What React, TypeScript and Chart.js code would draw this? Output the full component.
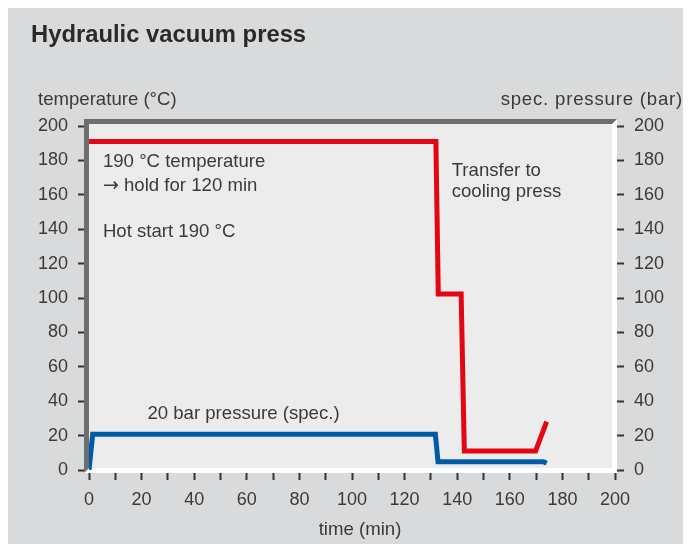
import React, { useEffect, useRef } from "react";
import { Chart, registerables } from "chart.js";

Chart.register(...registerables);

// ---- data ----
const temperatureTime = [0, 131.9, 132.8, 141.5, 142.7, 169.8, 174.0];
const temperatureValues = [191, 191, 102.3, 102.3, 11, 11, 28.1];

const pressureTime = [0, 1.4, 131.7, 132.7, 172.8, 174.0];
const pressureValues = [0, 20.8, 20.8, 4.8, 4.8, 3.9];

const axisMin = 0;
const axisMax = 200;
const yStep = 20;
const xTickStep = 10;
const xLabelStep = 20;

const titleText = "Hydraulic vacuum press";
const leftAxisTitle = "temperature (°C)";
const rightAxisTitle = "spec. pressure (bar)";
const bottomAxisTitle = "time (min)";

const arrowGlyph = "→";
const noteTexts = [
  "190 °C temperature",
  " hold for 120 min",
  "Hot start 190 °C",
  "Transfer to",
  "cooling press",
  "20 bar pressure (spec.)",
];
const noteHasArrow = [false, true, false, false, false, false];
// anchor of each note in data coordinates (time, temperature)
const noteX = [5.3, 5.3, 5.3, 137.9, 137.9, 22.2];
const noteY = [176, 162.2, 135.2, 170.9, 158.9, 29.7];

// ---- styles ----
const FONT = "'Liberation Sans', Arial, Helvetica, sans-serif";
const PANEL = "#d9dadb";
const PLOT_BG = "#ebeceb";
const FRAME_DARK = "#6d6e70";
const TEXT = "#3a3a3a";
const RED = "#e30613";
const BLUE = "#005aa9";

const W = 683;
const H = 536;

const decorPlugin = {
  id: "decor",
  beforeDraw(chart: any) {
    const { ctx, width, height } = chart;
    ctx.save();
    ctx.fillStyle = PANEL;
    ctx.fillRect(0, 0, width, height);
    ctx.restore();
  },
  beforeDatasetsDraw(chart: any) {
    const { ctx, chartArea: a } = chart;
    const L = a.left - 5;
    const T = a.top - 7;
    const R = a.right + 2;
    const B = a.bottom + 3;
    const b = 5;
    ctx.save();
    ctx.fillStyle = "#ffffff";
    ctx.fillRect(L, T, R - L, B - T);
    ctx.fillStyle = FRAME_DARK;
    ctx.beginPath();
    ctx.moveTo(L, T);
    ctx.lineTo(R, T);
    ctx.lineTo(R - b, T + b);
    ctx.lineTo(L + b, T + b);
    ctx.lineTo(L + b, B - b);
    ctx.lineTo(L, B);
    ctx.closePath();
    ctx.fill();
    ctx.fillStyle = PLOT_BG;
    ctx.fillRect(L + b, T + b, R - L - 2 * b, B - T - 2 * b);
    ctx.restore();
  },
  afterDraw(chart: any) {
    const { ctx } = chart;
    const xs = chart.scales.x;
    const ys = chart.scales.y;
    ctx.save();
    ctx.textBaseline = "alphabetic";
    // title
    ctx.fillStyle = "#2a2a2a";
    ctx.font = `bold 23.8px ${FONT}`;
    ctx.textAlign = "left";
    ctx.fillText(titleText, 23, 34);
    // axis titles
    ctx.fillStyle = TEXT;
    ctx.font = `18.6px ${FONT}`;
    ctx.textAlign = "left";
    ctx.fillText(leftAxisTitle, 30, 97);
    ctx.textAlign = "right";
    (ctx as any).letterSpacing = "0.8px";
    ctx.fillText(rightAxisTitle, 675, 97);
    (ctx as any).letterSpacing = "0px";
    ctx.textAlign = "center";
    ctx.fillText(bottomAxisTitle, (xs.left + xs.right) / 2 + 8, 527);
    // notes
    ctx.textAlign = "left";
    noteTexts.forEach((t, i) => {
      let px = xs.getPixelForValue(noteX[i]);
      const py = ys.getPixelForValue(noteY[i]);
      if (noteHasArrow[i]) {
        ctx.font = `19px 'DejaVu Sans', sans-serif`;
        ctx.fillText(arrowGlyph, px, py);
        px += ctx.measureText(arrowGlyph).width;
        ctx.font = `18.6px ${FONT}`;
      }
      ctx.fillText(t, px, py);
    });
    ctx.restore();
  },
};

export default function App() {
  const ref = useRef<HTMLCanvasElement | null>(null);

  useEffect(() => {
    document.documentElement.style.overflow = "hidden";
    document.body.style.overflow = "hidden";
    const canvas = ref.current;
    if (!canvas) return;

    const tickFont = { family: FONT, size: 18 };
    const tempData = temperatureTime.map((t, i) => ({ x: t, y: temperatureValues[i] }));
    const presData = pressureTime.map((t, i) => ({ x: t, y: pressureValues[i] }));

    const chart = new Chart(canvas, {
      type: "line",
      data: {
        datasets: [
          {
            label: "temperature",
            data: tempData,
            borderColor: RED,
            borderWidth: 5,
            pointRadius: 0,
            fill: false,
            tension: 0,
            borderJoinStyle: "miter",
            borderCapStyle: "butt",
            yAxisID: "y",
          },
          {
            label: "pressure",
            data: presData,
            borderColor: BLUE,
            borderWidth: 5,
            pointRadius: 0,
            fill: false,
            tension: 0,
            borderJoinStyle: "miter",
            borderCapStyle: "butt",
            yAxisID: "y2",
          },
        ],
      },
      options: {
        responsive: false,
        animation: false,
        devicePixelRatio: 1,
        layout: { padding: { top: 118, left: 0, right: 0, bottom: 0 } },
        plugins: {
          legend: { display: false },
          title: { display: false },
          tooltip: { enabled: false },
        },
        scales: {
          x: {
            type: "linear",
            min: axisMin,
            max: axisMax,
            ticks: {
              stepSize: xTickStep,
              autoSkip: false,
              maxRotation: 0,
              padding: 9,
              color: TEXT,
              font: tickFont,
              callback: (v: any) => (Number(v) % xLabelStep === 0 ? String(v) : ""),
            },
            grid: {
              drawOnChartArea: false,
              drawTicks: true,
              tickLength: 10,
              tickWidth: 2,
              tickColor: "#333333",
            },
            border: { display: false },
            afterFit: (s: any) => {
              s.height = 74;
            },
          },
          y: {
            type: "linear",
            position: "left",
            min: axisMin,
            max: axisMax,
            ticks: { stepSize: yStep, padding: 10, color: TEXT, font: tickFont },
            grid: {
              drawOnChartArea: false,
              drawTicks: true,
              tickLength: 11,
              tickWidth: 2,
              tickColor: "#333333",
            },
            border: { display: false },
            afterFit: (s: any) => {
              s.width = 81;
            },
          },
          y2: {
            type: "linear",
            position: "right",
            min: axisMin,
            max: axisMax,
            ticks: { stepSize: yStep, padding: 10, color: TEXT, font: tickFont },
            grid: {
              drawOnChartArea: false,
              drawTicks: true,
              tickLength: 9,
              tickWidth: 2,
              tickColor: "#333333",
            },
            border: { display: false },
            afterFit: (s: any) => {
              s.width = 76;
            },
          },
        },
      },
      plugins: [decorPlugin],
    } as any);

    return () => chart.destroy();
  }, []);

  return (
    <div style={{ width: W, height: H }}>
      <canvas ref={ref} width={W} height={H} style={{ display: "block", width: W, height: H }} />
    </div>
  );
}
